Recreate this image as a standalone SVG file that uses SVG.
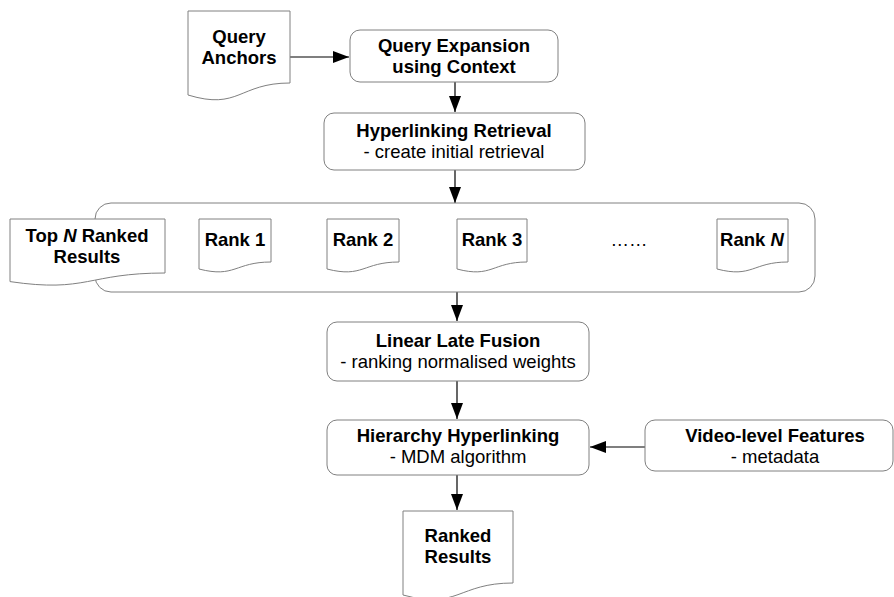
<svg xmlns="http://www.w3.org/2000/svg" width="894" height="597" viewBox="0 0 894 597">
  <style>
    .box { fill: #ffffff; stroke: #808080; stroke-width: 1; }
    .doc { fill: #ffffff; stroke: #808080; stroke-width: 1; }
    .edge { fill: none; stroke: #000000; stroke-width: 1.2; }
    text { font-family: "Liberation Sans", Arial, sans-serif; font-size: 18.5px; fill: #000000; text-anchor: middle; }
    .b { font-weight: bold; }
  </style>
  <defs>
    <marker id="arrow" viewBox="0 0 16 12" refX="16" refY="6" markerWidth="16" markerHeight="12" markerUnits="userSpaceOnUse" orient="auto">
      <path d="M0,0 L16,6 L0,12 Z" fill="#000000"/>
    </marker>
  </defs>

  <rect width="894" height="597" fill="#ffffff"/>

  <!-- connectors -->
  <g id="connectors">
    <line class="edge" x1="290" y1="57" x2="349" y2="57" marker-end="url(#arrow)"/>
    <line class="edge" x1="455" y1="82" x2="455" y2="112" marker-end="url(#arrow)"/>
    <line class="edge" x1="455" y1="170" x2="455" y2="203" marker-end="url(#arrow)"/>
    <line class="edge" x1="457" y1="292" x2="457" y2="321" marker-end="url(#arrow)"/>
    <line class="edge" x1="457" y1="381" x2="457" y2="419" marker-end="url(#arrow)"/>
    <line class="edge" x1="645" y1="447" x2="590" y2="447" marker-end="url(#arrow)"/>
    <line class="edge" x1="457" y1="475" x2="457" y2="510" marker-end="url(#arrow)"/>
  </g>

  <!-- input document -->
  <g id="query-anchors">
    <path class="doc" d="M188,11 H290 V83 C239,83 239,110.6 188,95 Z"/>
    <text class="b" x="239" y="43">Query</text>
    <text class="b" x="239" y="64">Anchors</text>
  </g>

  <g id="query-expansion">
    <rect class="box" x="350" y="30" width="208" height="52" rx="10" ry="10"/>
    <text class="b" x="454" y="52">Query Expansion</text>
    <text class="b" x="454" y="73">using Context</text>
  </g>

  <g id="hyperlinking-retrieval">
    <rect class="box" x="324" y="113" width="261" height="57" rx="10" ry="10"/>
    <text class="b" x="454" y="137">Hyperlinking Retrieval</text>
    <text x="454" y="158">- create initial retrieval</text>
  </g>

  <!-- ranked result lists -->
  <g id="ranked-lists">
    <rect class="box" x="95" y="203" width="720" height="89" rx="16" ry="16"/>
  </g>

  <g id="top-n">
    <path class="doc" d="M10,219 H165 V273 C87.5,273 87.5,293 10,281.6 Z"/>
    <text class="b" x="87" y="242">Top <tspan font-style="italic">N</tspan> Ranked</text>
    <text class="b" x="87" y="263">Results</text>
  </g>

  <g id="rank-1">
    <path class="doc" d="M199,219 H271 V262 C235,262 235,278.3 199,269 Z"/>
    <text class="b" x="235" y="246">Rank 1</text>
  </g>

  <g id="rank-2">
    <path class="doc" d="M327,219 H399 V262 C363,262 363,278.3 327,269 Z"/>
    <text class="b" x="363" y="246">Rank 2</text>
  </g>

  <g id="rank-3">
    <path class="doc" d="M457,219 H527 V262 C492,262 492,278.3 457,269 Z"/>
    <text class="b" x="492" y="246">Rank 3</text>
  </g>

  <g id="ellipsis">
    <text x="629" y="246">……</text>
  </g>

  <g id="rank-n">
    <path class="doc" d="M717,219 H788 V262 C752.5,262 752.5,278.3 717,269 Z"/>
    <text class="b" x="752" y="246">Rank <tspan font-style="italic">N</tspan></text>
  </g>

  <g id="linear-late-fusion">
    <rect class="box" x="327" y="322" width="262" height="59" rx="10" ry="10"/>
    <text class="b" x="458" y="347">Linear Late Fusion</text>
    <text x="458" y="368">- ranking normalised weights</text>
  </g>

  <g id="hierarchy-hyperlinking">
    <rect class="box" x="327" y="420" width="262" height="55" rx="10" ry="10"/>
    <text class="b" x="458" y="442">Hierarchy Hyperlinking</text>
    <text x="458" y="463">- MDM algorithm</text>
  </g>

  <g id="video-level-features">
    <rect class="box" x="645" y="420" width="248" height="51" rx="10" ry="10"/>
    <text class="b" x="775" y="442">Video-level Features</text>
    <text x="775" y="463">- metadata</text>
  </g>

  <g id="ranked-results">
    <path class="doc" d="M403,511 H513 V583 C458,583 458,610 403,595 Z"/>
    <text class="b" x="458" y="542">Ranked</text>
    <text class="b" x="458" y="563">Results</text>
  </g>
</svg>
